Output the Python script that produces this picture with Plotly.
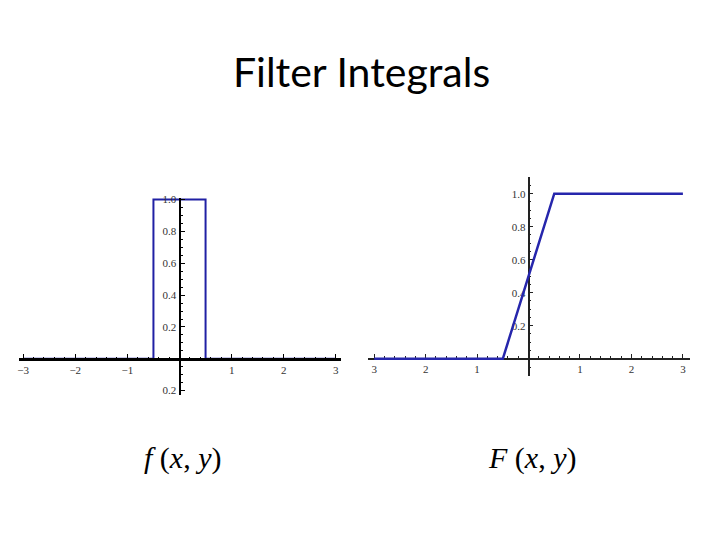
import plotly.graph_objects as go

# ---- data ----
f_x = [-3, -0.5, -0.5, 0.5, 0.5, 3]
f_y = [0, 0, 1, 1, 0, 0]
F_x = [-3, -0.5, 0.5, 3]
F_y = [0, 0, 1, 1]

left_xticks = [-3, -2, -1, 1, 2, 3]
left_xlabels = ["\u22123", "\u22122", "\u22121", "1", "2", "3"]
left_yticks = [-0.2, 0.2, 0.4, 0.6, 0.8, 1.0]
left_ylabels = ["0.2", "0.2", "0.4", "0.6", "0.8", "1.0"]
right_xticks = [-3, -2, -1, 1, 2, 3]
right_xlabels = ["3", "2", "1", "1", "2", "3"]
right_yticks = [0.2, 0.4, 0.6, 0.8, 1.0]
right_ylabels = ["0.2", "0.4", "0.6", "0.8", "1.0"]

title_text = "Filter Integrals"
label_left = "<i>f</i> (<i>x</i>, <i>y</i>)"
label_right = "<i>F</i> (<i>x</i>, <i>y</i>)"

W, H = 720, 540
OFF = 8  # page body margin compensation

# ---- layout geometry (reference pixels) ----
L_xdom_px = (17, 340); L_xr = (-3.08, 3.1)
L_ydom_px = (195.1, 394.7); L_yr = (-0.23, 1.01)
R_xdom_px = (367, 690); R_xr = (-3.12, 3.14)
R_ydom_px = (174, 375); R_yr = (-0.104, 1.10)

def px(v): return v - OFF
def xdom(p): return [px(p[0]) / W, px(p[1]) / W]
def ydom(p): return [1 - px(p[1]) / H, 1 - px(p[0]) / H]
def zero_pos(dom, r):
    return dom[0] + (0 - r[0]) / (r[1] - r[0]) * (dom[1] - dom[0])

fig = go.Figure()
fig.add_trace(go.Scatter(x=f_x, y=f_y, mode="lines", xaxis="x", yaxis="y",
                         line=dict(color="#2020a4", width=2), showlegend=False))
fig.add_trace(go.Scatter(x=F_x, y=F_y, mode="lines", xaxis="x2", yaxis="y2",
                         line=dict(color="#2626ac", width=2.5), showlegend=False))

tick_font = dict(family="Liberation Serif", size=11, color="#333333")

Lxd, Lyd = xdom(L_xdom_px), ydom(L_ydom_px)
Rxd, Ryd = xdom(R_xdom_px), ydom(R_ydom_px)

def xaxis_cfg(dom, r, ydm, yr, tv, tt, lw, lc, layer, mlen):
    return dict(domain=dom, range=list(r), anchor="free", position=zero_pos(ydm, yr),
                showgrid=False, zeroline=False, showline=True, linecolor=lc, linewidth=lw,
                tickvals=tv, ticktext=tt, ticks="inside", ticklen=4, tickcolor=lc, tickwidth=1,
                minor=dict(dtick=0.2, ticks="inside", ticklen=mlen, tickcolor=lc, tickwidth=1),
                tickfont=tick_font, layer=layer, fixedrange=True)

def yaxis_cfg(dom, r, xdm, xr, tv, tt, lw, lc, layer):
    return dict(domain=dom, range=list(r), anchor="free", position=zero_pos(xdm, xr),
                showgrid=False, zeroline=False, showline=True, linecolor=lc, linewidth=lw,
                tickvals=tv, ticktext=tt, ticks="inside", ticklen=4, tickcolor=lc, tickwidth=1,
                minor=dict(dtick=0.05, ticks="inside", ticklen=2, tickcolor=lc, tickwidth=1),
                tickfont=tick_font, layer=layer, fixedrange=True)

fig.update_layout(
    width=W, height=H, margin=dict(l=0, r=0, t=0, b=0),
    paper_bgcolor="white", plot_bgcolor="white", showlegend=False,
    xaxis=xaxis_cfg(Lxd, L_xr, Lyd, L_yr, left_xticks, left_xlabels, 3, "#000000", "above traces", 1),
    yaxis=yaxis_cfg(Lyd, L_yr, Lxd, L_xr, left_yticks, left_ylabels, 2, "#000000", "above traces"),
    xaxis2=xaxis_cfg(Rxd, R_xr, Ryd, R_yr, right_xticks, right_xlabels, 1.5, "#222222", "below traces", 2),
    yaxis2=yaxis_cfg(Ryd, R_yr, Rxd, R_xr, right_yticks, right_ylabels, 1.5, "#222222", "below traces"),
    annotations=[
        dict(text=title_text, x=px(360) / W, y=1 - px(67) / H, xref="paper", yref="paper",
             showarrow=False, font=dict(family="Lato", size=41, color="black"),
             xanchor="center", yanchor="middle"),
        dict(text=label_left, x=px(181) / W, y=1 - px(458) / H, xref="paper", yref="paper",
             showarrow=False, font=dict(family="Liberation Serif", size=30, color="black"),
             xanchor="center", yanchor="middle"),
        dict(text=label_right, x=px(531) / W, y=1 - px(458) / H, xref="paper", yref="paper",
             showarrow=False, font=dict(family="Liberation Serif", size=30, color="black"),
             xanchor="center", yanchor="middle"),
    ],
)

fig.write_html("out.html")
